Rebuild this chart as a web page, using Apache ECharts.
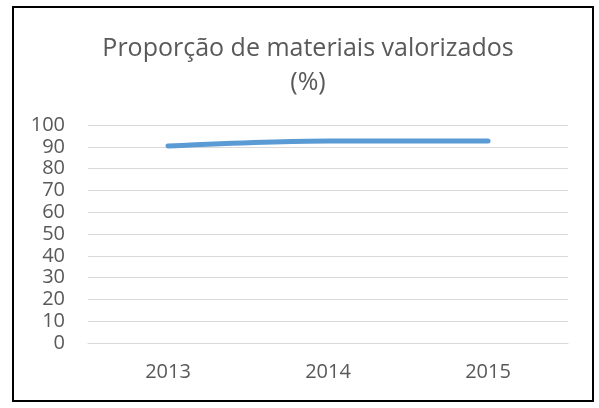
<!DOCTYPE html>
<html>
<head>
<meta charset="utf-8">
<script src="https://cdn.jsdelivr.net/npm/echarts@6/dist/echarts.min.js"></script>
<style>
  body { margin: 0; background: #fff; }
  #chart { width: 599px; height: 408px; }
</style>
</head>
<body>
<div id="chart"></div>
<script>
var years = ['2013', '2014', '2015']
var valores = [90.4, 92.7, 92.7]
var yMin = 0
var yMax = 100
var yStep = 10

var myChart = echarts.init(document.getElementById('chart'))
var option = {
  backgroundColor: '#fff',
  textStyle: { fontFamily: 'Open Sans' },
  graphic: [
    {
      type: 'rect',
      shape: { x: 13, y: 7, width: 580, height: 394 },
      style: { fill: 'none', stroke: '#000', lineWidth: 2 },
      z: -1
    }
  ],
  title: {
    text: 'Proporção de materiais valorizados\n(%)',
    left: 303,
    top: 27,
    textAlign: 'center',
    textStyle: {
      color: '#595959',
      fontSize: 25,
      fontWeight: 'normal',
      fontFamily: 'Open Sans',
      lineHeight: 34
    }
  },
  grid: {
    left: 88,
    right: 31,
    top: 125,
    bottom: 65
  },
  xAxis: {
    type: 'category',
    data: years,
    boundaryGap: true,
    axisLine: { lineStyle: { color: '#d9d9d9', width: 1 } },
    axisTick: { show: false },
    axisLabel: { color: '#595959', fontSize: 20, margin: 19 }
  },
  yAxis: {
    type: 'value',
    min: yMin,
    max: yMax,
    interval: yStep,
    axisLine: { show: false },
    axisTick: { show: false },
    axisLabel: { color: '#595959', fontSize: 20, margin: 23, lineHeight: 20 },
    splitLine: { lineStyle: { color: '#d9d9d9', width: 1 } }
  },
  series: [
    {
      type: 'line',
      data: valores,
      smooth: 0.3,
      symbol: 'none',
      lineStyle: { color: '#5b9bd5', width: 5, cap: 'round' },
      itemStyle: { color: '#5b9bd5' }
    }
  ]
}
myChart.setOption(option)
</script>
</body>
</html>
